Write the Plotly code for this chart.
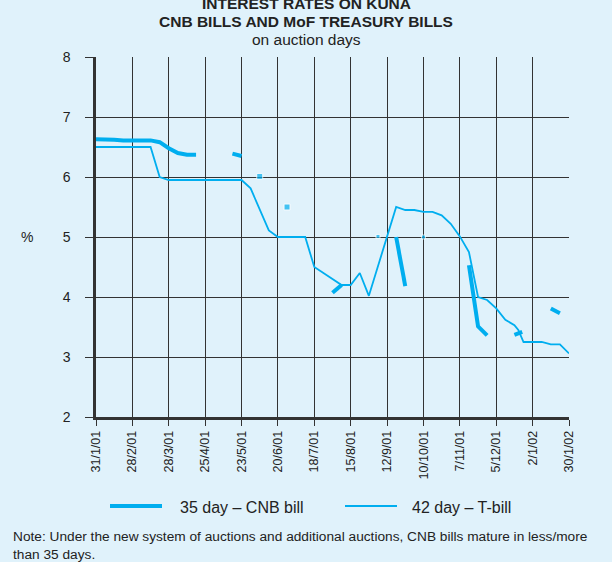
import plotly.graph_objects as go
import pandas as pd

START = pd.Timestamp("2001-01-31")

def d(n):
    return (START + pd.Timedelta(days=n)).strftime("%Y-%m-%d")

# 42 day T-bill (days after 31/1/01, %)
tbill_days = [0, 42, 49, 56, 112, 119, 133, 140, 161, 168, 189, 196, 203, 210,
              231, 238, 245, 252, 259, 266, 273, 280, 287, 294, 301, 308, 315,
              322, 325, 329, 343, 350, 357, 364]
tbill_vals = [6.50, 6.50, 6.00, 5.95, 5.95, 5.81, 5.11, 5.00, 5.00, 4.50, 4.20,
              4.20, 4.40, 4.02, 5.50, 5.45, 5.45, 5.42, 5.42, 5.36, 5.22, 5.01,
              4.75, 4.00, 3.95, 3.81, 3.62, 3.53, 3.45, 3.25, 3.25, 3.21, 3.21, 3.06]

# 35 day CNB bill, segments separated by None
cnb_days = [0, 7, 14, 21, 28, 35, 42, 49, 56, 63, 70, 77, None,
            105, 112, None,
            182, 189, None,
            231, 238, None,
            287, 294, 301, None,
            322, 328, None,
            350, 357]
cnb_vals = [6.63, 6.63, 6.62, 6.61, 6.61, 6.61, 6.61, 6.58, 6.48, 6.40, 6.37, 6.37, None,
            6.39, 6.35, None,
            4.07, 4.20, None,
            5.00, 4.18, None,
            4.53, 3.51, 3.36, None,
            3.37, 3.42, None,
            3.81, 3.73]

# isolated CNB bill auctions
dot_days = [126, 147, 217, 252]
dot_vals = [6.01, 5.50, 5.01, 5.00]
dot_sizes = [6, 6, 4, 4]

tick_days = list(range(0, 365, 28))
tick_labels = ["31/1/01", "28/2/01", "28/3/01", "25/4/01", "23/5/01", "20/6/01",
               "18/7/01", "15/8/01", "12/9/01", "10/10/01", "7/11/01", "5/12/01",
               "2/1/02", "30/1/02"]

series_names = ["35 day – CNB bill", "42 day – T-bill"]

LINE = "#00AEEF"
BG = "#E0F2FB"
TXT = "#222"
FONT = "Liberation Sans, Arial, sans-serif"

L, R, T, B = 96, 43, 57, 145
PW, PH = 612 - L - R, 562 - T - B

def px(x):
    return (x - L) / PW

def py(y):
    return (562 - B - y) / PH

fig = go.Figure()
fig.add_trace(go.Scatter(
    x=[d(n) if n is not None else None for n in cnb_days], y=cnb_vals,
    mode="lines", line=dict(color=LINE, width=4), connectgaps=False,
    name=series_names[0], showlegend=False))
fig.add_trace(go.Scatter(
    x=[d(n) for n in tbill_days], y=tbill_vals,
    mode="lines", line=dict(color=LINE, width=1.8),
    name=series_names[1], showlegend=False))
fig.add_trace(go.Scatter(
    x=[d(n) for n in dot_days], y=dot_vals, mode="markers",
    marker=dict(color=LINE, size=dot_sizes, symbol="square"),
    showlegend=False))

fig.update_layout(
    width=612, height=562,
    paper_bgcolor=BG, plot_bgcolor=BG,
    margin=dict(l=L, r=R, t=T, b=B),
    font=dict(family=FONT, color=TXT, size=12),
    showlegend=False,
)
fig.update_xaxes(
    type="date", range=[d(0), d(364)], automargin=False,
    tickmode="array", tickvals=[d(n) for n in tick_days], ticktext=tick_labels,
    tickangle=-90, ticks="outside", ticklen=6, tickcolor="#333", tickwidth=1,
    showgrid=True, gridcolor="#333", gridwidth=1,
    showline=True, linecolor="#333", linewidth=2.5,
    tickfont=dict(size=12.5, color=TXT), zeroline=False,
)
fig.update_yaxes(
    range=[2, 8], tickvals=[2, 3, 4, 5, 6, 7, 8], automargin=False,
    ticks="outside", ticklen=8, tickcolor="#333", tickwidth=1,
    showgrid=True, gridcolor="#333", gridwidth=1,
    showline=True, linecolor="#333", linewidth=2.5,
    tickfont=dict(size=14, color=TXT), ticklabelstandoff=12, zeroline=False,
)

titles = [
    ("<b>INTEREST RATES ON KUNA</b>", 3, 15.5),
    ("<b>CNB BILLS AND MoF TREASURY BILLS</b>", 22, 15.5),
    ("on auction days", 40, 15.5),
]
for text, y, size in titles:
    fig.add_annotation(text=text, xref="paper", yref="paper", x=px(306),
                       y=py(y), xanchor="center", yanchor="middle",
                       showarrow=False, font=dict(family=FONT, color=TXT, size=size))
fig.add_annotation(text="%", xref="paper", yref="paper", x=px(27), y=0.5,
                   xanchor="center", yanchor="middle", showarrow=False,
                   font=dict(family=FONT, size=14, color=TXT))

# legend drawn by hand
legend_items = [(110, 162, 4, 178), (345, 397, 1.8, 410)]
for (x0, x1, w, tx), name in zip(legend_items, series_names):
    fig.add_shape(type="line", xref="paper", yref="paper", x0=px(x0), x1=px(x1),
                  y0=py(506), y1=py(506), line=dict(color=LINE, width=w))
    fig.add_annotation(text=name, xref="paper", yref="paper", x=px(tx), y=py(507),
                       xanchor="left", yanchor="middle", showarrow=False,
                       font=dict(family=FONT, size=16, color=TXT))

fig.add_annotation(
    text="Note: Under the new system of auctions and additional auctions, CNB bills mature in less/more<br>than 35 days.",
    xref="paper", yref="paper", x=px(11), y=py(527),
    xanchor="left", yanchor="top", align="left", showarrow=False,
    font=dict(family=FONT, size=13.7, color=TXT))

fig.write_html("out.html", config={"displayModeBar": False},
               post_script="document.body.style.margin='0';document.body.style.background='%s';" % BG)
